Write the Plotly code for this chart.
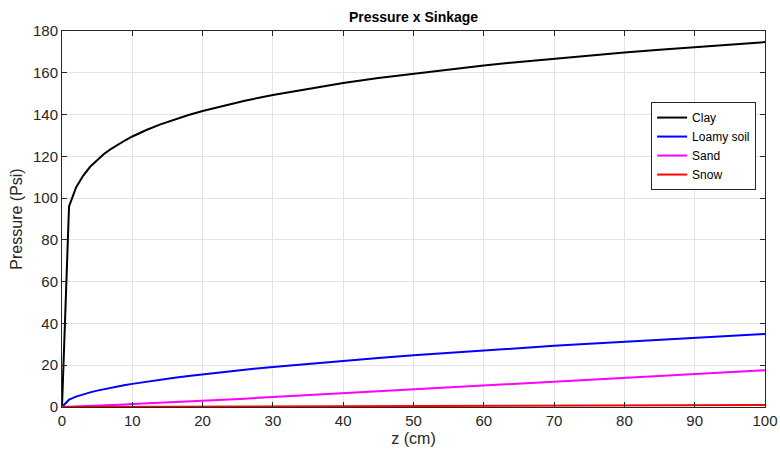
import plotly.graph_objects as go

z = [0, 1, 2, 3, 4, 5, 6, 7, 8, 9, 10, 12, 14, 16, 18, 20, 23, 26, 30,
     35, 40, 45, 50, 55, 60, 65, 70, 75, 80, 85, 90, 95, 100]
clay = [0, 96, 105.1, 110.7, 115.0, 118.3, 121.2, 123.6, 125.8, 127.7, 129.5,
        132.6, 135.3, 137.7, 139.8, 141.7, 144.3, 146.6, 149.4,
        152.4, 155.1, 157.5, 159.6, 161.6, 163.5, 165.2, 166.8, 168.3, 169.7, 171.0, 172.3, 173.5, 174.7]
loamy = [0, 3.5, 4.95, 6.06, 7.0, 7.83, 8.57, 9.26, 9.9, 10.5, 11.07,
         12.12, 13.1, 14.0, 14.85, 15.65, 16.8, 17.85, 19.17,
         20.7, 22.1, 23.5, 24.75, 25.96, 27.1, 28.2, 29.3, 30.3, 31.3, 32.3, 33.2, 34.1, 35.0]
sand = [0, 0.1, 0.2, 0.35, 0.45, 0.6, 0.7, 0.85, 1.0, 1.2, 1.4,
        1.7, 2.0, 2.3, 2.7, 3.0, 3.5, 4.0, 4.8,
        5.7, 6.6, 7.5, 8.4, 9.3, 10.2, 11.1, 12.0, 13.0, 13.9, 14.8, 15.8, 16.7, 17.6]
snow = [0, 0.01, 0.02, 0.03, 0.04, 0.05, 0.05, 0.06, 0.07, 0.08, 0.09,
        0.11, 0.13, 0.15, 0.17, 0.18, 0.21, 0.24, 0.27,
        0.32, 0.36, 0.41, 0.45, 0.5, 0.54, 0.59, 0.63, 0.68, 0.72, 0.77, 0.81, 0.86, 0.9]

names = ["Clay", "Loamy soil", "Sand", "Snow"]
colors = ["#000000", "#0000ff", "#ff00ff", "#ff0000"]
series = [clay, loamy, sand, snow]

FONT = "Liberation Sans, Arial, Helvetica, sans-serif"

fig = go.Figure()
for nm, col, ys in zip(names, colors, series):
    fig.add_trace(go.Scatter(x=z, y=ys, mode="lines", name=nm,
                             line=dict(color=col, width=2)))

axis_common = dict(
    showline=True, linecolor="#262626", linewidth=1, mirror="ticks",
    ticks="inside", ticklen=5, tickcolor="#262626",
    showgrid=True, gridcolor="#e3e3e3", gridwidth=1,
    zeroline=False, automargin=False,
    tickfont=dict(family=FONT, size=15, color="#262626"),
)

W, H = 780, 452
fig.update_layout(
    width=W, height=H,
    margin=dict(l=62, r=15, t=31, b=45, autoexpand=False),
    paper_bgcolor="white", plot_bgcolor="white",
    title=dict(text="<b>Pressure x Sinkage</b>", x=0.5, xanchor="center",
               xref="paper",
               y=1 - 17 / H, yanchor="middle",
               font=dict(family=FONT, size=14, color="#000000")),
    xaxis=dict(range=[0, 100], dtick=10,
               title=dict(text="z (cm)", standoff=4,
                          font=dict(family=FONT, size=16, color="#262626")),
               **axis_common),
    yaxis=dict(range=[0, 180], dtick=20,
               title=dict(text="Pressure (Psi)", standoff=6,
                          font=dict(family=FONT, size=16, color="#262626")),
               **axis_common),
    legend=dict(x=0.838, y=0.811, xanchor="left", yanchor="top",
                bgcolor="white", bordercolor="#262626", borderwidth=1,
                font=dict(family=FONT, size=12, color="#000000"),
                tracegroupgap=0, itemwidth=30),
    showlegend=True,
)

fig.write_html("out.html",
               config={"displayModeBar": False},
               post_script="document.body.style.margin='0';document.body.style.overflow='hidden';")
